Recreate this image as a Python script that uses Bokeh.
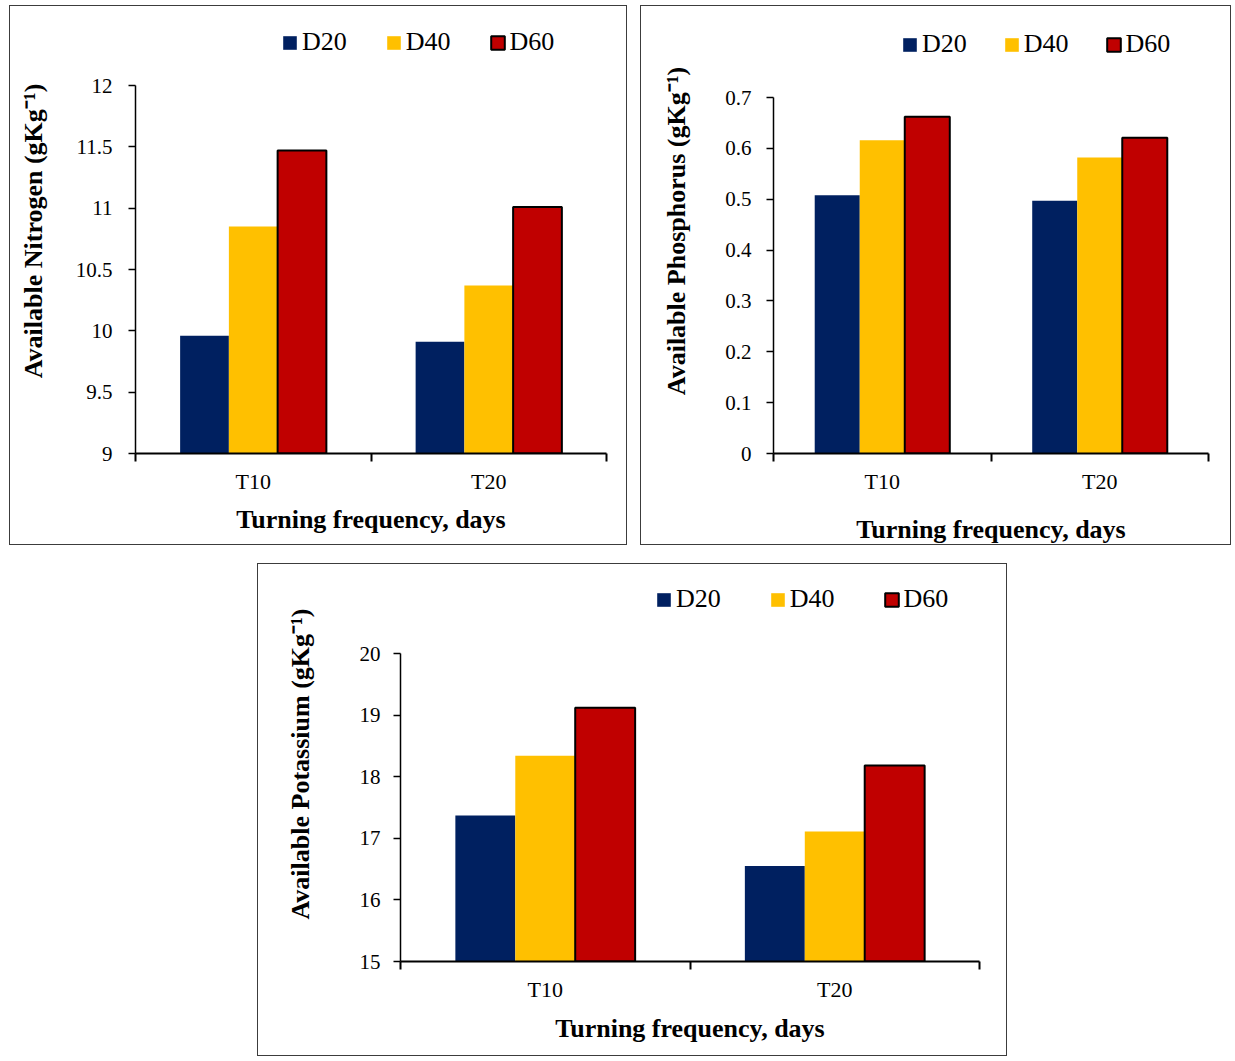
from bokeh.plotting import figure
from bokeh.models import (Range1d, FixedTicker, CustomJSTickFormatter, Legend,
                          LegendItem, ColumnDataSource, Spacer)
from bokeh.layouts import column, row
from bokeh.transform import dodge
from bokeh.embed import file_html
from bokeh.resources import INLINE

# ---------------- data ----------------
categories = ["T10", "T20"]
series = ["D20", "D40", "D60"]
colors = ["#002060", "#FFC000", "#C00000"]

nitrogen_d20 = [9.96, 9.91]
nitrogen_d40 = [10.85, 10.37]
nitrogen_d60 = [11.47, 11.01]
nitrogen_ticks = [9, 9.5, 10, 10.5, 11, 11.5, 12]

phosphorus_d20 = [0.508, 0.497]
phosphorus_d40 = [0.616, 0.582]
phosphorus_d60 = [0.662, 0.621]
phosphorus_ticks = [0, 0.1, 0.2, 0.3, 0.4, 0.5, 0.6, 0.7]

potassium_d20 = [17.37, 16.55]
potassium_d40 = [18.34, 17.11]
potassium_d60 = [19.12, 18.18]
potassium_ticks = [15, 16, 17, 18, 19, 20]

x_title = "Turning frequency, days"
FONT = "Liberation Serif"
BAR_W = 0.207


def make_panel(width, height, mb_left, mb_right, data_px, extra_px, mb_bottom,
               ticks, d20, d40, d60, ylabel, legend_xy, legend_spacing,
               ytick_standoff, ylabel_standoff, xlabel_standoff):
    n = len(categories)
    xc = [i + 0.5 for i in range(n)]
    # the frame is extended upward (extra_px) so the legend sits inside it
    y0, y1 = ticks[0], ticks[-1]
    y_top = y1 + extra_px * (y1 - y0) / data_px
    p = figure(width=width, height=height, output_backend="svg", toolbar_location=None,
               x_range=Range1d(0, n), y_range=Range1d(y0, y_top),
               min_border_left=mb_left, min_border_right=mb_right,
               min_border_top=2, min_border_bottom=mb_bottom)
    p.title = None
    p.styles = {"border": "1px solid #3c3c3c"}
    p.outline_line_color = None
    p.xgrid.visible = False
    p.ygrid.visible = False
    p.background_fill_color = "white"
    p.border_fill_color = "white"

    src = ColumnDataSource(dict(x=xc, d20=d20, d40=d40, d60=d60))
    offsets = [-BAR_W, 0.0, BAR_W]
    renderers = []
    for col, off, color, s in zip(["d20", "d40", "d60"], offsets, colors, series):
        if s == "D60":
            lc, lw = "black", 2
        else:
            lc, lw = None, 1
        r = p.vbar(x=dodge("x", off), top=col, bottom=y0, width=BAR_W,
                   source=src, fill_color=color, line_color=lc, line_width=lw)
        renderers.append(r)

    # y axis
    ya = p.yaxis[0]
    ya.bounds = (y0, y1)
    ya.ticker = FixedTicker(ticks=ticks)
    ya.formatter = CustomJSTickFormatter(code="return String(Math.round(tick*1000)/1000)")
    ya.major_tick_out = 7
    ya.major_tick_in = 0
    ya.minor_tick_line_color = None
    ya.axis_line_width = 1.5
    ya.axis_line_color = "black"
    ya.major_tick_line_color = "black"
    ya.major_tick_line_width = 1.5
    ya.major_label_text_font = FONT
    ya.major_label_text_font_size = "21px"
    ya.major_label_text_color = "black"
    ya.major_label_standoff = ytick_standoff
    ya.axis_label = ylabel
    ya.axis_label_text_font = FONT
    ya.axis_label_text_font_size = "26px"
    ya.axis_label_text_font_style = "bold"
    ya.axis_label_text_color = "black"
    ya.axis_label_standoff = ylabel_standoff

    # x axis: labels at category centres, tick marks at category boundaries
    xa = p.xaxis[0]
    xa.ticker = FixedTicker(ticks=xc, minor_ticks=list(range(n + 1)))
    xa.formatter = CustomJSTickFormatter(args=dict(labels=categories),
                                         code="return labels[Math.floor(tick)] || ''")
    xa.major_tick_out = 0
    xa.major_tick_in = 0
    xa.major_tick_line_color = None
    xa.minor_tick_out = 8
    xa.minor_tick_in = 0
    xa.minor_tick_line_color = "black"
    xa.minor_tick_line_width = 2
    xa.axis_line_width = 2
    xa.axis_line_color = "black"
    xa.major_label_text_font = FONT
    xa.major_label_text_font_size = "22px"
    xa.major_label_text_color = "black"
    xa.major_label_standoff = 7
    xa.axis_label = x_title
    xa.axis_label_text_font = FONT
    xa.axis_label_text_font_size = "26px"
    xa.axis_label_text_font_style = "bold"
    xa.axis_label_text_color = "black"
    xa.axis_label_standoff = xlabel_standoff

    legend = Legend(items=[LegendItem(label=s, renderers=[r]) for s, r in zip(series, renderers)],
                    location=legend_xy, orientation="horizontal",
                    glyph_width=17, glyph_height=17, label_standoff=4,
                    spacing=legend_spacing, padding=0, margin=0,
                    border_line_color=None, background_fill_alpha=0,
                    label_text_font=FONT, label_text_font_size="26px",
                    label_text_color="black")
    p.add_layout(legend)
    return p


# panel 1: canvas at (10, 6), frame left 135, data top 85, axis 453
p1 = make_panel(618, 540, 125, 22, 368, 77, 93, nitrogen_ticks,
                nitrogen_d20, nitrogen_d40, nitrogen_d60,
                "Available Nitrogen (gKg\u207b\u00b9)", (146, 396), 38, 16, 25, 8)
# panel 2: canvas at (643, 6), frame left 775, data top 97, axis 453
p2 = make_panel(591, 540, 132, 24, 356, 89, 93, phosphorus_ticks,
                phosphorus_d20, phosphorus_d40, phosphorus_d60,
                "Available Phosphorus (gKg\u207b\u00b9)", (128, 394), 36, 15, 31, 18)
# panel 3: canvas at (258, 566), frame left 400, data top 655, axis 963
p3 = make_panel(750, 493, 142, 29, 308, 87, 96, potassium_ticks,
                potassium_d20, potassium_d40, potassium_d60,
                "Available Potassium (gKg\u207b\u00b9)", (255, 347), 48, 13, 42, 9)

top_row = row(Spacer(width=9, height=10), p1, Spacer(width=13, height=10), p2, spacing=0)
bottom_row = row(Spacer(width=257, height=10), p3, spacing=0)
layout = column(Spacer(width=10, height=5), top_row, Spacer(width=10, height=18), bottom_row,
                spacing=0)

open("out.html", "w").write(file_html(layout, INLINE))
